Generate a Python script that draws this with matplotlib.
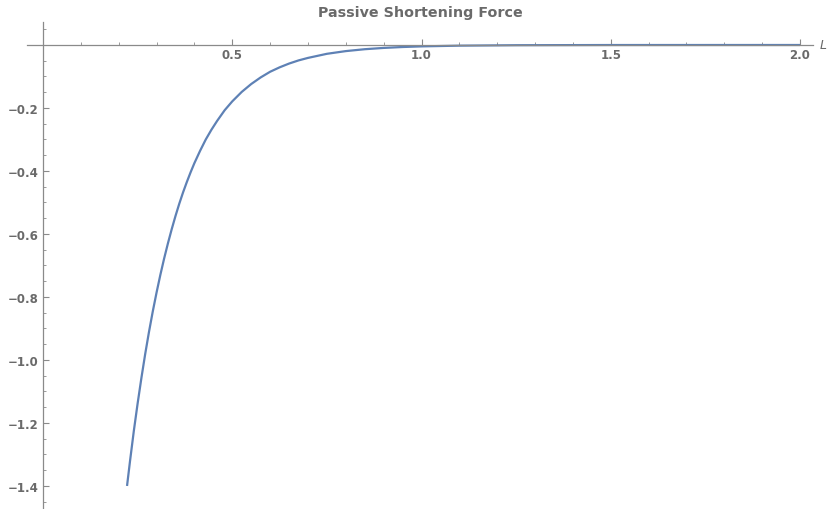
import numpy as np
import matplotlib
matplotlib.use("Agg")
import matplotlib.pyplot as plt
from matplotlib.ticker import MultipleLocator, FixedLocator, FuncFormatter

# values
length = [0.222, 0.23, 0.24, 0.25, 0.26, 0.27, 0.28, 0.29, 0.30, 0.31,
          0.32, 0.33, 0.34, 0.35, 0.36, 0.37, 0.38, 0.39, 0.40, 0.415,
          0.43, 0.445, 0.46, 0.48, 0.50, 0.525, 0.55, 0.575, 0.60, 0.625,
          0.65, 0.675, 0.70, 0.75, 0.80, 0.85, 0.90, 0.95, 1.00, 1.10,
          1.25, 1.50, 2.00]
force = [-1.400, -1.320, -1.225, -1.138, -1.057, -0.981, -0.911, -0.846, -0.786, -0.730,
         -0.678, -0.630, -0.585, -0.543, -0.504, -0.468, -0.435, -0.404, -0.375, -0.336,
         -0.300, -0.269, -0.241, -0.207, -0.179, -0.149, -0.124, -0.103, -0.085, -0.071,
         -0.059, -0.049, -0.041, -0.028, -0.0194, -0.0134, -0.0093, -0.0064, -0.0044, -0.0021,
         -0.0007, -0.0001, 0.0]

x_major = [0.5, 1.0, 1.5, 2.0]
y_major = [-0.2, -0.4, -0.6, -0.8, -1.0, -1.2, -1.4]

W, H = 830, 510
fig = plt.figure(figsize=(W / 100, H / 100), dpi=100)
# pixel box of the plot region
left_px, right_px, top_px, bot_px = 27.1, 812.9, 23, 509
ax = fig.add_axes([left_px / W, 1 - bot_px / H, (right_px - left_px) / W, (bot_px - top_px) / H])

ax.plot(length, force, color="#5E81B5", lw=1.6, solid_capstyle="butt",
        solid_joinstyle="round")

ax.set_xlim(-0.042, 2.034)
ax.set_ylim(-1.47, 0.073)

axis_col = "#8a8a8a"
label_col = "#6a6a6a"
for s in ["top", "right"]:
    ax.spines[s].set_visible(False)
ax.spines["left"].set_position(("data", 0))
ax.spines["bottom"].set_position(("data", 0))
for s in ["left", "bottom"]:
    ax.spines[s].set_color(axis_col)
    ax.spines[s].set_linewidth(0.9)

fmt = FuncFormatter(lambda v, p: ("%.1f" % v).replace("-", "\u2212"))
ax.xaxis.set_major_locator(FixedLocator(x_major))
ax.xaxis.set_minor_locator(MultipleLocator(0.1))
ax.yaxis.set_major_locator(FixedLocator(y_major))
ax.yaxis.set_minor_locator(MultipleLocator(0.05))
ax.xaxis.set_major_formatter(fmt)
ax.yaxis.set_major_formatter(fmt)

ax.tick_params(axis="both", which="major", direction="in", length=4, width=0.8,
               color=axis_col, labelcolor=label_col, labelsize=8.5)
ax.tick_params(axis="both", which="minor", direction="in", length=2.2, width=0.6,
               color=axis_col)
ax.tick_params(axis="x", which="major", pad=2)
ax.tick_params(axis="y", which="major", pad=3)
for lab in ax.get_xticklabels() + ax.get_yticklabels():
    lab.set_fontweight("bold")

ax.set_title("Passive Shortening Force", color=label_col, fontsize=10.3,
             fontweight="bold", pad=4)
ax.text(1.008, 0, "L", transform=ax.get_yaxis_transform(), color=label_col,
        fontsize=9, style="italic", ha="left", va="center")

fig.savefig("out.png", dpi=100)
